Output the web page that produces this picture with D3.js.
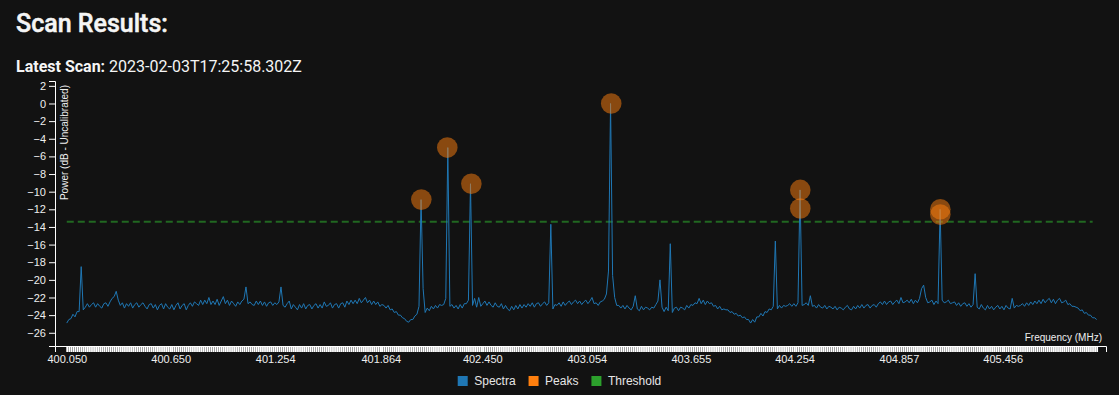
<!DOCTYPE html>
<html>
<head>
  <meta charset="UTF-8">
  <title>Scan Results</title>
  <style>
  body {
    margin:0;
    background:#121212;
  }
  .axis text {
    font-family:"Liberation Sans",Arial,sans-serif;
    font-size:11px;
    fill:#eee;
  }
  .axis path, .axis line {
    stroke:#fff;
  }
  </style>
</head>
<body>
  <div id="chart"></div>
  <script src="https://d3js.org/d3.v7.min.js"></script>
  <script>
    // scan bins, 400.050 .. 405.999 MHz, one value per bin (dB)
    var spectraStartMHz = 400.050,
        spectraEndMHz = 405.999;

    var spectra = [
      -24.9,-24.5,-24.4,-23.9,-24.2,-23.6,-23.6,-18.5,-23.4,-23.1,-22.7,-23.1,-22.8,-22.6,-23.1,-22.7,-23.0,-23.2,-22.7,-22.6,-23.0,-22.5,-22.1,-21.9,-21.3,
      -22.3,-22.9,-22.6,-23.2,-22.7,-23.0,-22.6,-23.2,-22.8,-22.6,-23.1,-22.8,-22.6,-23.0,-23.3,-22.8,-22.7,-23.2,-22.8,-23.4,-22.9,-22.7,-23.3,-22.7,-23.1,
      -23.3,-22.8,-23.4,-22.9,-22.6,-23.3,-22.9,-22.7,-23.4,-22.9,-22.6,-23.0,-22.5,-22.7,-22.9,-22.3,-22.8,-22.3,-22.7,-22.0,-22.8,-22.4,-22.8,-22.2,-22.9,
      -22.4,-21.9,-22.7,-22.3,-22.9,-22.4,-22.7,-23.0,-22.5,-22.8,-22.4,-22.2,-20.8,-22.7,-22.5,-22.8,-22.9,-22.4,-22.8,-22.4,-22.9,-22.5,-23.0,-22.6,-22.5,
      -22.9,-22.6,-22.8,-22.5,-20.8,-22.9,-23.1,-22.7,-22.4,-23.3,-22.8,-23.1,-23.4,-22.8,-23.2,-22.7,-23.3,-22.9,-22.8,-23.3,-22.9,-22.7,-23.2,-22.8,-23.2,
      -22.5,-23.0,-22.9,-22.6,-23.2,-22.8,-22.7,-23.2,-22.7,-22.6,-23.1,-22.4,-22.8,-22.3,-22.7,-22.3,-22.7,-22.1,-22.6,-22.3,-22.0,-22.6,-22.3,-22.8,-22.4,
      -22.8,-22.5,-23.0,-22.8,-22.9,-23.2,-22.9,-23.4,-23.3,-23.7,-23.6,-24.0,-24.0,-24.3,-24.4,-24.7,-24.8,-24.5,-24.5,-24.1,-23.9,-23.0,-10.9,-21.0,-23.7,
      -23.2,-23.5,-23.0,-23.3,-22.9,-23.2,-22.8,-22.9,-22.8,-22.1,-5.0,-23.0,-22.8,-23.2,-22.9,-23.3,-22.8,-23.2,-22.7,-22.7,-22.3,-9.1,-22.9,-22.1,-23.1,
      -22.0,-23.0,-22.7,-22.4,-22.9,-22.5,-22.9,-23.1,-22.6,-23.0,-23.1,-22.7,-23.3,-22.9,-23.3,-23.5,-23.0,-23.4,-22.9,-23.3,-22.8,-23.2,-22.8,-23.1,-22.7,
      -23.0,-22.6,-23.1,-22.7,-22.6,-23.0,-22.7,-22.5,-22.9,-22.6,-13.7,-23.3,-22.8,-22.9,-22.6,-23.0,-22.5,-22.9,-22.6,-22.4,-22.8,-22.5,-22.3,-22.7,-22.4,
      -22.8,-22.5,-22.3,-22.7,-22.4,-22.0,-22.7,-22.6,-22.9,-22.5,-22.4,-22.2,-21.6,-19.0,0.0,-19.5,-22.0,-22.9,-22.9,-23.2,-22.9,-23.3,-22.9,-23.2,-23.4,
      -23.0,-21.8,-23.3,-23.5,-23.0,-23.4,-23.1,-23.2,-23.4,-23.1,-23.2,-22.8,-22.4,-20.0,-23.1,-23.6,-23.1,-23.5,-15.9,-23.7,-23.2,-23.1,-23.5,-23.1,-23.2,
      -23.4,-22.9,-23.2,-22.8,-22.9,-22.6,-22.7,-22.1,-22.7,-22.3,-22.8,-22.4,-22.7,-22.6,-23.0,-22.9,-23.3,-23.0,-23.4,-23.3,-23.4,-23.4,-23.7,-23.6,-23.9,
      -23.8,-24.1,-24.0,-24.3,-24.2,-24.5,-24.5,-24.9,-24.5,-24.8,-24.2,-24.2,-23.8,-24.1,-23.6,-23.7,-23.3,-23.4,-23.0,-15.6,-23.3,-22.9,-23.2,-22.9,-23.0,
      -22.9,-22.7,-23.0,-22.7,-23.0,-22.6,-9.8,-22.9,-22.8,-22.6,-22.9,-21.8,-23.0,-22.9,-23.2,-22.8,-23.1,-23.2,-22.9,-23.3,-23.0,-23.1,-23.3,-23.0,-23.4,
      -23.1,-23.2,-23.4,-23.1,-22.9,-23.3,-23.4,-23.0,-23.3,-22.9,-23.2,-22.8,-23.2,-22.9,-22.8,-23.2,-22.9,-22.8,-23.1,-22.7,-22.5,-22.8,-22.4,-22.8,-22.5,
      -22.4,-22.8,-22.5,-22.3,-22.7,-22.0,-22.6,-22.5,-22.3,-22.6,-22.2,-22.7,-22.3,-22.6,-22.1,-21.0,-20.6,-22.0,-22.6,-22.5,-22.3,-22.8,-22.4,-22.7,-12.0,
      -22.3,-22.6,-22.5,-22.3,-22.7,-22.6,-22.5,-22.9,-22.6,-23.0,-22.7,-22.6,-23.0,-22.7,-23.1,-22.8,-19.3,-23.1,-23.3,-22.8,-23.2,-23.4,-22.9,-23.3,-23.0,
      -23.4,-23.1,-22.9,-23.3,-23.0,-23.4,-22.9,-23.2,-23.3,-22.1,-23.2,-22.9,-23.0,-22.9,-22.7,-23.0,-22.6,-22.9,-22.5,-22.8,-22.4,-22.7,-22.3,-22.7,-22.2,
      -22.6,-22.3,-22.1,-22.6,-22.2,-22.7,-22.3,-22.1,-22.6,-22.5,-22.3,-22.8,-22.7,-23.0,-23.0,-23.1,-23.2,-23.5,-23.4,-23.8,-23.7,-24.0,-24.0,-24.3,-24.3,
      -24.5
    ];

    var peakFreqs = [402.098, 402.248, 402.387, 403.195, 404.287, 404.287, 405.096, 405.096];
    var peakPowers = [-10.9, -5.0, -9.1, 0.0, -9.8, -11.9, -12.0, -12.6];

    var thresholdDb = -13.4;

    var tickLabelsMHz = [400.050, 400.650, 401.254, 401.864, 402.450, 403.054, 403.655, 404.254, 404.857, 405.456];

    var legendNames = ["Spectra", "Peaks", "Threshold"];
    var legendColors = ["#1f77b4", "#ff7f0e", "#2ca02c"];

    var scanTime = "2023-02-03T17:25:58.302Z";

    var svg = d3.select("#chart")
      .append("svg")
      .attr("width", 1119)
      .attr("height", 395);

    svg.append("text")
      .attr("x", 16)
      .attr("y", 32)
      .style("font-family", "Roboto, sans-serif")
      .style("font-size", "25px")
      .style("font-weight", 500)
      .attr("fill", "#f5f5f5")
      .attr("stroke", "#f5f5f5")
      .attr("stroke-width", 0.5)
      .text("Scan Results:");

    var sub = svg.append("text")
      .attr("x", 16)
      .attr("y", 72)
      .style("font-family", "Roboto, sans-serif")
      .style("font-size", "16px")
      .attr("fill", "#f5f5f5");
    sub.append("tspan").style("font-weight", 700).text("Latest Scan: ");
    sub.append("tspan").text(scanTime);

    var data = spectra.map(function(v, i) {
      return {
        freq: spectraStartMHz + (spectraEndMHz - spectraStartMHz) * i / (spectra.length - 1),
        power: v
      };
    });

    var x = d3.scaleLinear()
      .domain([399.982, 406.053])
      .range([55, 1106]);

    var y = d3.scaleLinear()
      .domain([-27.5, 2.55])
      .range([346, 81]);

    // dense bin ticks
    svg.append("g")
        .attr("class", "axis")
        .attr("transform", "translate(0,346)")
        .call(d3.axisBottom(x)
          .tickValues(data.map(function(d) { return d.freq; }))
          .tickFormat(""))
        .call(function(g) { g.selectAll(".tick line").attr("stroke-width", 1.8); });

    svg.append("g")
        .attr("class", "axis")
        .attr("transform", "translate(0,346)")
        .call(d3.axisBottom(x)
          .tickValues(tickLabelsMHz)
          .tickFormat(d3.format(".3f")))
        .call(function(g) { g.select(".domain").remove(); });

    svg.append("g")
        .attr("class", "axis")
        .attr("transform", "translate(55,0)")
        .call(d3.axisLeft(y).ticks(15));

    svg.append("text")
      .attr("transform", "translate(55,0) rotate(-90)")
      .attr("x", -85)
      .attr("y", 6)
      .attr("dy", ".71em")
      .style("text-anchor", "end")
      .style("font-family", "Liberation Sans, Arial, sans-serif")
      .style("font-size", "10px")
      .attr("fill", "#eee")
      .text("Power (dB - Uncalibrated)");

    svg.append("text")
      .attr("x", 1102)
      .attr("y", 341)
      .style("text-anchor", "end")
      .style("font-family", "Liberation Sans, Arial, sans-serif")
      .style("font-size", "10px")
      .attr("fill", "#eee")
      .text("Frequency (MHz)");

    svg.append("line")
      .attr("x1", x(spectraStartMHz))
      .attr("x2", x(spectraEndMHz) - 4)
      .attr("y1", y(thresholdDb))
      .attr("y2", y(thresholdDb))
      .attr("stroke", "#2ca02c")
      .attr("stroke-opacity", 0.6)
      .attr("stroke-width", 2)
      .attr("stroke-dasharray", "7,4");

    var line = d3.line()
      .x(function(d) { return x(d.freq); })
      .y(function(d) { return y(d.power); });

    svg.append("path")
      .datum(data)
      .attr("fill", "none")
      .attr("stroke", "#1f77b4")
      .attr("stroke-width", 1)
      .attr("d", line);

    svg.selectAll(".peak")
      .data(peakFreqs)
      .enter().append("circle")
      .attr("class", "peak")
      .attr("cx", function(d) { return x(d); })
      .attr("cy", function(d, i) { return y(peakPowers[i]); })
      .attr("r", 10.3)
      .attr("fill", "#ff7f0e")
      .attr("fill-opacity", 0.5);

    // legend, centred on the page
    var legend = svg.append("g");
    var cx = 0;
    legendNames.forEach(function(name, i) {
      legend.append("rect")
        .attr("x", cx)
        .attr("y", 376)
        .attr("width", 10)
        .attr("height", 10)
        .attr("fill", legendColors[i]);
      var t = legend.append("text")
        .attr("x", cx + 16.5)
        .attr("y", 385)
        .style("font-family", "Liberation Sans, Arial, sans-serif")
        .style("font-size", "12px")
        .attr("fill", "#e6e6e6")
        .text(name);
      cx += 16.5 + t.node().getComputedTextLength() + 13;
    });
    var lw = cx - 13;
    legend.attr("transform", "translate(" + (1119 / 2 - lw / 2) + ",0)");
  </script>
</body>
</html>
